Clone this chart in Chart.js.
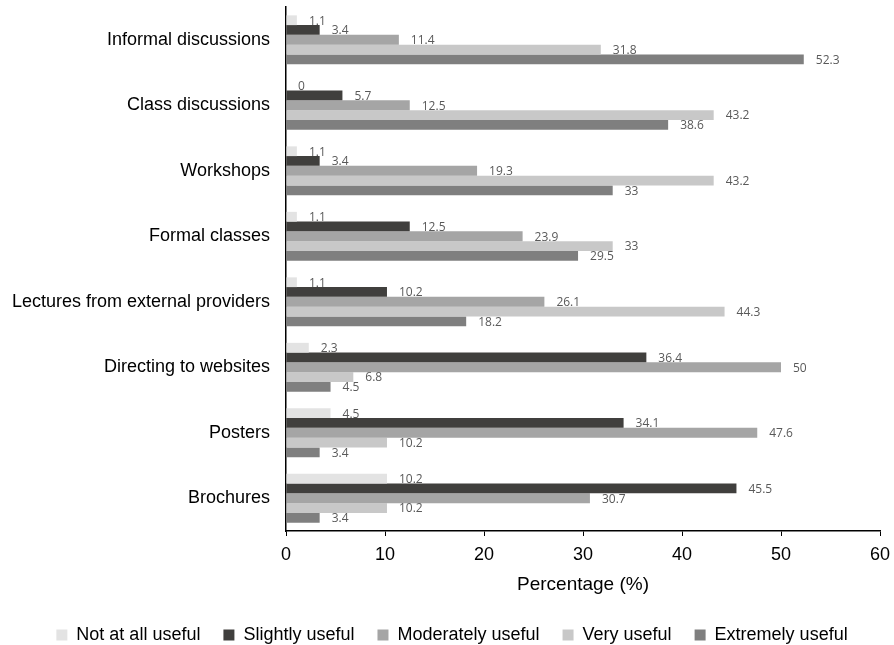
<!DOCTYPE html>
<html lang="en">
<head>
    <meta charset="UTF-8">
    <title>Usefulness of information sources</title>
    <style>
        html, body {
            margin: 0;
            padding: 0;
            background: #fff;
        }
        .chart-box {
            width: 894px;
            height: 645px;
        }
    </style>
</head>
<body>
    <div class="chart-box">
        <canvas id="usefulChart" width="894" height="645"></canvas>
    </div>
    <script src="https://cdn.jsdelivr.net/npm/chart.js"></script>
    <script>
        const sources = [
            'Informal discussions',
            'Class discussions',
            'Workshops',
            'Formal classes',
            'Lectures from external providers',
            'Directing to websites',
            'Posters',
            'Brochures'
        ];

        const notAtAll   = [1.1, 0, 1.1, 1.1, 1.1, 2.3, 4.5, 10.2];
        const slightly   = [3.4, 5.7, 3.4, 12.5, 10.2, 36.4, 34.1, 45.5];
        const moderately = [11.4, 12.5, 19.3, 23.9, 26.1, 50, 47.6, 30.7];
        const very       = [31.8, 43.2, 43.2, 33, 44.3, 6.8, 10.2, 10.2];
        const extremely  = [52.3, 38.6, 33, 29.5, 18.2, 4.5, 3.4, 3.4];

        const xTicks = [0, 10, 20, 30, 40, 50, 60];

        const fontFamily = '"Liberation Sans", Arial, sans-serif';

        // writes each value just past the end of its bar
        const barValues = {
            id: 'barValues',
            afterDatasetsDraw(chart) {
                const ctx = chart.ctx;
                ctx.save();
                ctx.font = '12px "Open Sans", sans-serif';
                ctx.fillStyle = '#595959';
                ctx.textAlign = 'left';
                ctx.textBaseline = 'middle';
                chart.data.datasets.forEach((ds, i) => {
                    const meta = chart.getDatasetMeta(i);
                    meta.data.forEach((bar, j) => {
                        ctx.fillText(String(ds.data[j]), bar.x + 12, bar.y + 1);
                    });
                });
                ctx.restore();
            }
        };

        // nudge the legend a little to the right
        const legendShift = {
            id: 'legendShift',
            afterLayout(chart) {
                chart.legend.left += 12;
                chart.legend.right += 12;
            }
        };

        const ctx = document.getElementById('usefulChart').getContext('2d');
        new Chart(ctx, {
            type: 'bar',
            data: {
                labels: sources,
                datasets: [
                    { label: 'Not at all useful', data: notAtAll, backgroundColor: '#e3e3e3' },
                    { label: 'Slightly useful', data: slightly, backgroundColor: '#403f3d' },
                    { label: 'Moderately useful', data: moderately, backgroundColor: '#a5a5a5' },
                    { label: 'Very useful', data: very, backgroundColor: '#c8c8c8' },
                    { label: 'Extremely useful', data: extremely, backgroundColor: '#7f7f7f' }
                ]
            },
            options: {
                indexAxis: 'y',
                responsive: false,
                animation: false,
                datasets: {
                    bar: {
                        categoryPercentage: 0.745,
                        barPercentage: 1,
                        borderWidth: 0
                    }
                },
                layout: {
                    padding: { top: 7, right: 14, left: 0, bottom: -9 }
                },
                scales: {
                    x: {
                        min: 0,
                        max: 60,
                        afterBuildTicks(scale) {
                            scale.ticks = xTicks.map(v => ({ value: v }));
                        },
                        afterFit(scale) {
                            scale.height = 72;
                            scale.paddingLeft = 0;
                            scale.paddingRight = 0;
                        },
                        grid: {
                            drawOnChartArea: false,
                            drawTicks: true,
                            tickLength: 5,
                            color: '#000'
                        },
                        border: { color: '#000', width: 1.5 },
                        ticks: {
                            color: '#000',
                            padding: 8,
                            font: { family: fontFamily, size: 18 }
                        },
                        title: {
                            display: true,
                            text: 'Percentage (%)',
                            color: '#000',
                            padding: { top: 0, bottom: 7 },
                            font: { family: fontFamily, size: 19 }
                        }
                    },
                    y: {
                        afterFit(scale) {
                            scale.width = 286;
                            scale.paddingTop = 0;
                            scale.paddingBottom = 0;
                        },
                        grid: { display: false, drawTicks: false },
                        border: { color: '#000', width: 1.5 },
                        ticks: {
                            color: '#000',
                            padding: 16,
                            font: { family: fontFamily, size: 18 }
                        }
                    }
                },
                plugins: {
                    legend: {
                        position: 'bottom',
                        labels: {
                            boxWidth: 11,
                            boxHeight: 11,
                            padding: 23,
                            color: '#000',
                            font: { family: fontFamily, size: 18 }
                        }
                    },
                    tooltip: { enabled: false }
                }
            },
            plugins: [barValues, legendShift]
        });
    </script>
</body>
</html>
